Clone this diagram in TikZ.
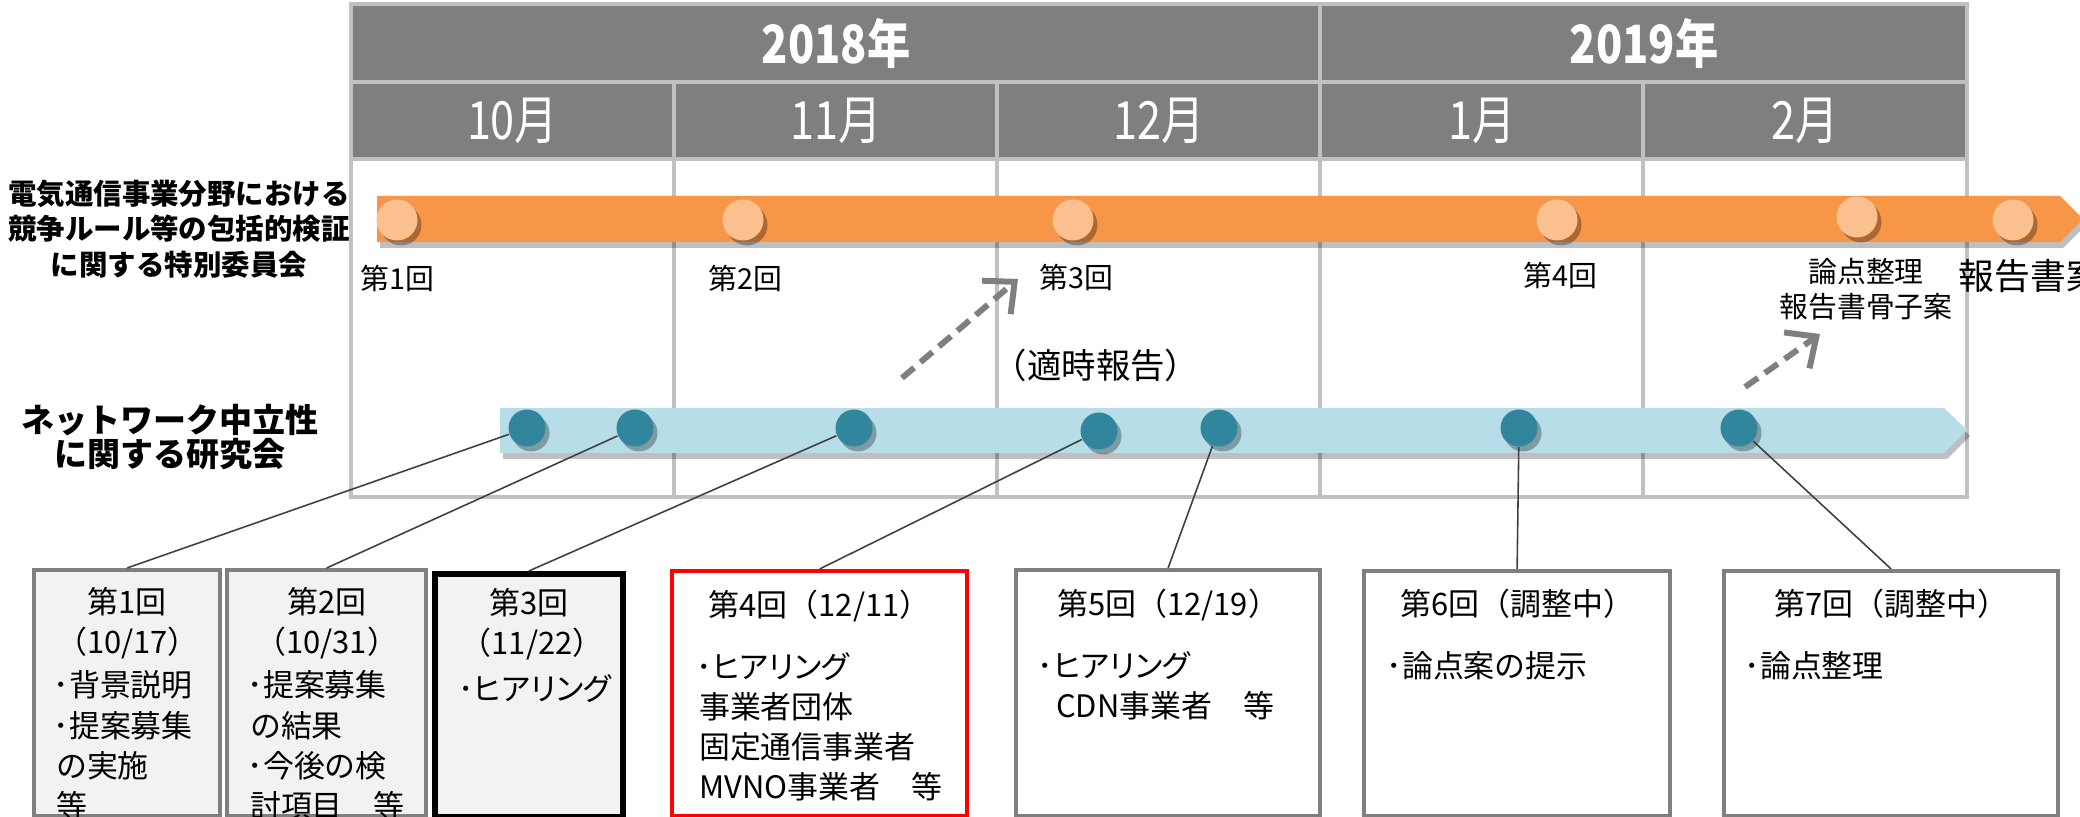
\documentclass[tikz,border=0pt]{standalone}
\usepackage{fontspec}
\setmainfont{Noto Sans CJK JP}
\newfontfamily\headfont[FakeStretch=0.82]{Noto Sans CJK JP}
\newfontfamily\propfont[RawFeature=+palt]{Noto Sans CJK JP}
\usepackage{xcolor}
\usepackage{tikz}
\usetikzlibrary{positioning, shadows, arrows.meta}
\parindent=0pt
\newcommand{\bulletdot}{\makebox[0.42em][l]{\kern-0.08em･}}
\definecolor{headgray}{HTML}{7F7F7F}
\definecolor{linegray}{HTML}{C0C0C0}
\definecolor{barorange}{HTML}{F79646}
\definecolor{peach}{HTML}{FAC090}
\definecolor{barblue}{HTML}{B7DDE8}
\definecolor{sessionblue}{HTML}{31859C}
\definecolor{boxgray}{HTML}{7F7F7F}
\definecolor{boxfill}{HTML}{F2F2F2}
\definecolor{linkgray}{HTML}{404040}
\tikzstyle{gridline}  = [draw=linegray, line width=1pt]
\tikzstyle{yearcell}  = [text=white, font=\headfont\fontsize{15}{17}\selectfont\bfseries]
\tikzstyle{monthcell} = [text=white, font=\headfont\fontsize{15}{17}\selectfont]
\tikzstyle{bigtitle}  = [align=center, font=\bfseries]
\tikzstyle{milestone} = [circle, minimum size=4.1mm, inner sep=0pt, fill=peach, drop shadow={shadow xshift=0.4mm, shadow yshift=-0.5mm, opacity=0.3, fill=black}]
\tikzstyle{session}   = [circle, minimum size=3.7mm, inner sep=0pt, fill=sessionblue, drop shadow={shadow xshift=0.4mm, shadow yshift=-0.5mm, opacity=0.3, fill=black}]
\tikzstyle{tag}       = [font=\fontsize{8.2}{10.5}\selectfont, align=center, inner sep=0pt]
\tikzstyle{meeting}   = [rectangle, anchor=north west, line width=1.2pt, draw=boxgray, fill=white]
\tikzstyle{notes}     = [anchor=north, inner sep=0pt, align=left, font=\fontsize{8.8}{11.4}\selectfont]
\tikzstyle{link}      = [draw=linkgray, line width=0.45pt]
\tikzstyle{arrow}     = [line width=1.7pt, draw=headgray, dash pattern=on 4.5pt off 2.4pt, -{Straight Barb[length=2.4mm, width=4.4mm]}]

\begin{document}
\begin{tikzpicture}[x=0.1mm, y=-0.1mm]
      \useasboundingbox (0,0) rectangle (2080,817);
      % Calendar grid
      \fill[headgray] (351,4) rectangle (1967,159);
      \draw[gridline] (351,4) rectangle (1967,497);
      \draw[gridline] (351,82) -- (1967,82);
      \draw[gridline] (351,159) -- (1967,159);
      \draw[gridline] (1320,4) -- (1320,497);
      \foreach \x in {674,997,1643} \draw[gridline] (\x,82) -- (\x,497);
      \node (year_2018) [yearcell] at (836,43)  {2018年};
      \node (year_2019) [yearcell] at (1644,43) {2019年};
      \foreach \m [count=\i] in {10,11,12,1,2}
        \node (month_\i) [monthcell] at ({351+(\i-0.5)*323.2},121) {\m 月};

      % Nodes
      %% Special committee (upper bar)
      \fill[barorange, drop shadow={shadow xshift=0.3mm, shadow yshift=-0.6mm, opacity=0.25, fill=black}]
        (377,196) -- (2060,196) -- (2083,219) -- (2060,242) -- (377,242) -- cycle;
      \node (committee) [bigtitle, font=\fontsize{8.1}{10.2}\selectfont\bfseries] at (179,229)
        {電気通信事業分野における\\競争ルール等の包括的検証\\に関する特別委員会};
      \node (iinkai_1) [milestone] at (397,220)  {};
      \node (iinkai_2) [milestone] at (743,220)  {};
      \node (iinkai_3) [milestone] at (1073,220) {};
      \node (iinkai_4) [milestone] at (1557,220) {};
      \node (iinkai_5) [milestone] at (1857,217) {};
      \node (iinkai_6) [milestone] at (2013,220) {};
      \node (iinkai_1_tag) [tag] at (397,278)  {第1回};
      \node (iinkai_2_tag) [tag] at (745,278)  {第2回};
      \node (iinkai_3_tag) [tag] at (1076,277) {第3回};
      \node (iinkai_4_tag) [tag] at (1560,275) {第4回};
      \node (iinkai_5_tag) [tag, font=\fontsize{8.2}{10}\selectfont] at (1866,289) {論点整理\\報告書骨子案};
      \node (iinkai_6_tag) [tag, anchor=west, font=\fontsize{10.2}{12}\selectfont] at (1958,276) {報告書案};
      \node (timely_report) [tag, font=\fontsize{9.8}{11}\selectfont] at (1096,365) {（適時報告）};

      %% Study group (lower bar)
      \fill[barblue, drop shadow={shadow xshift=0.3mm, shadow yshift=-0.6mm, opacity=0.25, fill=black}]
        (500,408) -- (1944,408) -- (1967,430) -- (1944,453) -- (500,453) -- cycle;
      \node (kenkyukai) [bigtitle, font=\fontsize{9.4}{9.6}\selectfont\bfseries] at (170,437)
        {ネットワーク中立性\\に関する研究会};
      \node (kenkyu_1) [session] at (527,428)  {};
      \node (kenkyu_2) [session] at (635,428)  {};
      \node (kenkyu_3) [session] at (854,428)  {};
      \node (kenkyu_4) [session] at (1099,431) {};
      \node (kenkyu_5) [session] at (1219,428) {};
      \node (kenkyu_6) [session] at (1519,428) {};
      \node (kenkyu_7) [session] at (1739,428) {};

      %% Meeting boxes
      \node (kai_1) [meeting, fill=boxfill, minimum width=18.6mm, minimum height=24.6mm] at (32,568)  {};
      \node (kai_2) [meeting, fill=boxfill, minimum width=19.9mm, minimum height=24.6mm] at (225,568) {};
      \node (kai_3) [meeting, fill=boxfill, draw=black, line width=1.6pt, minimum width=18.8mm, minimum height=24.3mm] at (432,571) {};
      \node (kai_4) [meeting, draw=red, minimum width=29.5mm, minimum height=24.5mm] at (670,569)  {};
      \node (kai_5) [meeting, minimum width=30.4mm, minimum height=24.6mm] at (1014,568) {};
      \node (kai_6) [meeting, minimum width=30.6mm, minimum height=24.5mm] at (1362,569) {};
      \node (kai_7) [meeting, minimum width=33.4mm, minimum height=24.5mm] at (1722,569) {};

      \node (kai_1_notes) [notes, text width=14.2mm, below=1.9mm of kai_1.north]
        {{\centering 第1回\\（10/17）\par}\vspace{0.3mm}\bulletdot 背景説明\\\bulletdot 提案募集\\の実施\\等};
      \node (kai_2_notes) [notes, text width=15.3mm, below=1.9mm of kai_2.north]
        {{\centering 第2回\\（10/31）\par}\vspace{0.3mm}\bulletdot 提案募集\\の結果\\\bulletdot 今後の検\\討項目　等};
      \node (kai_3_notes) [notes, text width=13.6mm, below=1.7mm of kai_3.north]
        {{\centering 第3回\\（11/22）\par}\vspace{0.6mm}\bulletdot{\propfont ヒアリング}};
      \node (kai_4_notes) [notes, text width=24.1mm, below=2.0mm of kai_4.north]
        {{\centering 第4回（12/11）\par}\vspace{2.2mm}\bulletdot{\propfont ヒアリング}\\事業者団体\\固定通信事業者\\MVNO事業者　等};
      \node (kai_5_notes) [notes, text width=25.6mm, below=2.0mm of kai_5.north]
        {{\centering 第5回（12/19）\par}\vspace{2.2mm}\bulletdot{\propfont ヒアリング}\\\hspace*{1.6mm}CDN事業者　等};
      \node (kai_6_notes) [notes, text width=25.6mm, below=1.9mm of kai_6.north]
        {{\centering 第6回（調整中）\par}\vspace{2.2mm}\bulletdot 論点案の提示};
      \node (kai_7_notes) [notes, text width=28.8mm, below=1.9mm of kai_7.north]
        {{\centering 第7回（調整中）\par}\vspace{2.2mm}\bulletdot 論点整理};

      % Arrows
      \foreach \i in {1,...,7} \draw [link] (kenkyu_\i) -- (kai_\i.north);
      \coordinate (report_from_1) at (902,378);
      \coordinate (report_from_2) at (1745,387);
      \draw [arrow] (report_from_1) -- (1018,279);
      \draw [arrow] (report_from_2) -- (1820,334);
\end{tikzpicture}
\end{document}
